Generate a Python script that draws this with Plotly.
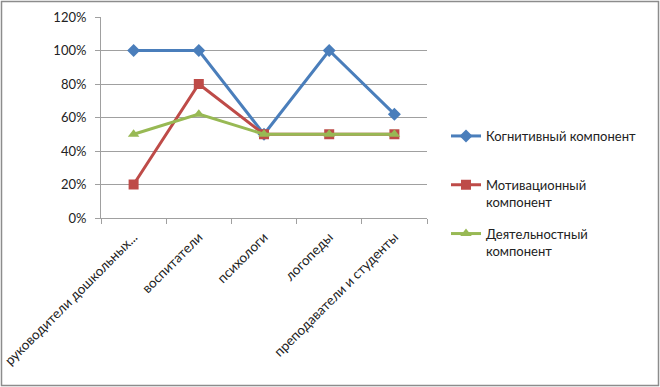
import plotly.graph_objects as go

categories = ["руководители дошкольных...", "воспитатели", "психологи", "логопеды", "преподаватели и студенты"]
cognitive = [1.00, 1.00, 0.50, 1.00, 0.62]
motivation = [0.20, 0.80, 0.50, 0.50, 0.50]
activity = [0.50, 0.62, 0.50, 0.50, 0.50]
names = ["Когнитивный компонент<br> ", "Мотивационный<br>компонент", "Деятельностный<br>компонент"]
y_ticks = [0, 0.2, 0.4, 0.6, 0.8, 1.0, 1.2]
y_labels = ["0%", "20%", "40%", "60%", "80%", "100%", "120%"]

FONT = "Lato, 'Open Sans', sans-serif"

fig = go.Figure()
styles = [
    ("#4A7EBB", "diamond", 10),
    ("#BE4B48", "square", 10),
    ("#98B954", "triangle-up", 10),
]
for i, (vals, name, (col, sym, sz)) in enumerate(zip([cognitive, motivation, activity], names, styles)):
    fig.add_trace(go.Scatter(
        x=categories, y=vals, name=name, mode="lines+markers",
        line=dict(color=col, width=3),
        marker=dict(symbol=sym, size=sz, color=col),
        legendgroup=str(i),
    ))

L, R, T, B = 101, 233, 17, 169
W, H = 660, 387
pw = W - L - R
ph = H - T - B

fig.update_layout(
    width=W, height=H,
    margin=dict(l=L, r=R, t=T, b=B, autoexpand=False),
    paper_bgcolor="white", plot_bgcolor="white",
    font=dict(family=FONT, size=12, color="#222"),
    showlegend=True,
    legend=dict(
        x=(446 - L) / pw, y=1 - (121 - T) / ph, xanchor="left", yanchor="top",
        font=dict(family=FONT, size=13, color="#222"),
        tracegroupgap=12, valign="top", itemwidth=30,
        bgcolor="rgba(0,0,0,0)",
    ),
    xaxis=dict(
        type="category", tickangle=-45, showgrid=False, automargin=False,
        showline=True, linecolor="#A0A0A0", linewidth=1,
        ticks="outside", ticklen=5, tickcolor="#A0A0A0", tickson="boundaries",
        tickfont=dict(family=FONT, size=13.5, color="#222"),
        ticklabelstandoff=5,
        range=[-0.5, 4.5], fixedrange=True,
    ),
    yaxis=dict(
        range=[0, 1.2], tickvals=y_ticks, ticktext=y_labels, automargin=False,
        showgrid=True, gridcolor="#A0A0A0", gridwidth=1,
        showline=True, linecolor="#A0A0A0", linewidth=1,
        ticks="outside", ticklen=5, tickcolor="#A0A0A0",
        tickfont=dict(family=FONT, size=13, color="#222"),
        ticklabelstandoff=6,
        zeroline=False, fixedrange=True,
    ),
    shapes=[dict(
        type="rect", xref="paper", yref="paper",
        x0=(1.5 - L) / pw, x1=(658.5 - L) / pw,
        y0=1 - (385.5 - T) / ph, y1=1 - (1.5 - T) / ph,
        line=dict(color="#8C8C8C", width=1.5), fillcolor="rgba(0,0,0,0)", layer="below",
    )],
)

fig.write_html(
    "out.html",
    config={"displayModeBar": False},
    post_script="document.body.style.margin='0';document.body.style.overflow='hidden';",
)
